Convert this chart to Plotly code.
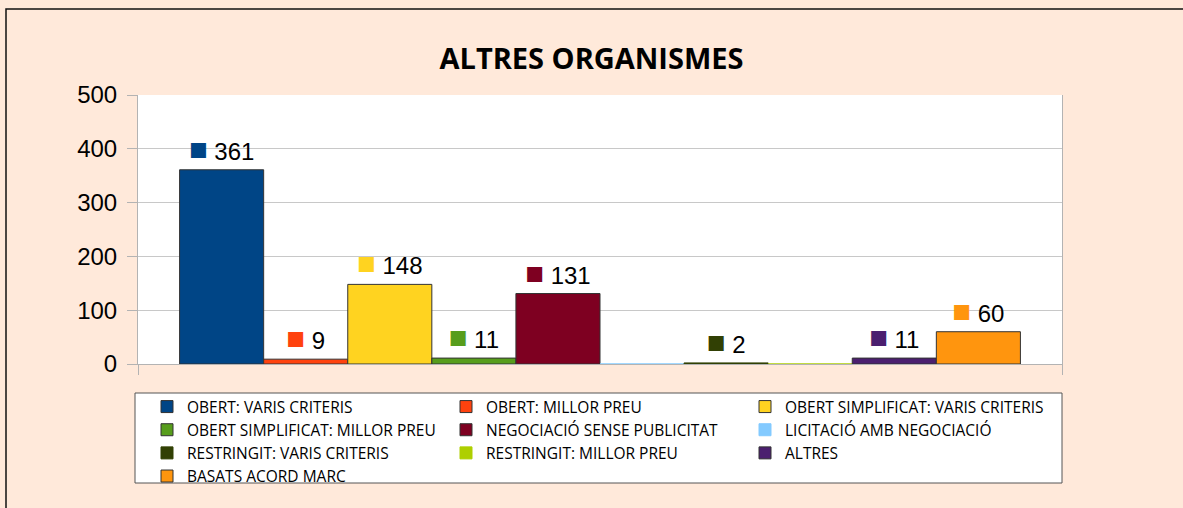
import plotly.graph_objects as go

title = "ALTRES ORGANISMES"
category = ["ALTRES ORGANISMES"]
series_names = [
    "OBERT: VARIS CRITERIS",
    "OBERT: MILLOR PREU",
    "OBERT SIMPLIFICAT: VARIS CRITERIS",
    "OBERT SIMPLIFICAT: MILLOR PREU",
    "NEGOCIACIÓ SENSE PUBLICITAT",
    "LICITACIÓ AMB NEGOCIACIÓ",
    "RESTRINGIT: VARIS CRITERIS",
    "RESTRINGIT: MILLOR PREU",
    "ALTRES",
    "BASATS ACORD MARC",
]
series_values = [361, 9, 148, 11, 131, 0, 2, 0, 11, 60]
series_colors = ["#004586", "#ff420e", "#ffd320", "#579d1c", "#7e0021",
                 "#83caff", "#314004", "#aecf00", "#4b1f6f", "#ff950e"]
y_ticks = [0, 100, 200, 300, 400, 500]

BG = "#ffe9da"
GRID = "#c8c8c8"
AXIS = "#b3b3b3"

fig = go.Figure()
for name, val, col in zip(series_names, series_values, series_colors):
    label = (f'<span style="color:{col};font-size:31px">■</span> {val}' if val else "")
    line_col = col if val < 5 else "#333333"
    fig.add_trace(go.Bar(
        x=category, y=[val], name=name,
        marker=dict(color=col, line=dict(color=line_col, width=1)),
        text=[label], texttemplate="%{text}", textposition="outside",
        textfont=dict(family="Liberation Sans", size=24, color="#000000"),
        constraintext="none", cliponaxis=False,
        hoverinfo="name+y",
    ))

# plot area: x 138..1062, y 95..364
L, R, T, B = 138, 1183 - 1062, 95, 508 - 364
PW, PH = 1183 - L - R, 508 - T - B


def px_x(p):
    return (p - L) / PW


def px_y(p):
    return (T + PH - p) / PH


fig.update_layout(
    width=1183, height=508,
    margin=dict(l=L, r=R, t=T, b=B, pad=0),
    paper_bgcolor=BG, plot_bgcolor="#ffffff",
    barmode="group", bargap=0.09, bargroupgap=0,
    title=dict(text=f"<b>{title}</b>", x=0.5, xanchor="center", y=1 - 59 / 508, yanchor="middle",
               font=dict(family="Open Sans", size=29, color="#000000")),
    showlegend=True,
    legend=dict(orientation="h", x=px_x(147), xanchor="left", y=px_y(390), yanchor="top",
                bgcolor="rgba(0,0,0,0)", borderwidth=0,
                font=dict(family="Open Sans", size=15.5, color="#000000"),
                entrywidth=254, itemwidth=30, traceorder="normal", tracegroupgap=0),
    xaxis=dict(showticklabels=False, showgrid=False, showline=True, linecolor=AXIS, linewidth=1,
               ticks="outside", tickson="boundaries", ticklen=10, tickcolor=AXIS, mirror=False),
    yaxis=dict(range=[0, 500], tickvals=y_ticks, showgrid=True, gridcolor=GRID, gridwidth=1,
               showline=True, linecolor=AXIS, linewidth=1, mirror=True,
               ticks="outside", ticklen=10, tickcolor=AXIS, zeroline=False,
               ticklabelstandoff=5,
               tickfont=dict(family="Liberation Sans", size=24, color="#000000")),
    shapes=[
        dict(type="rect", xref="paper", yref="paper",
             x0=px_x(6), x1=px_x(1300), y0=px_y(600), y1=px_y(9),
             line=dict(color="#111111", width=1.5), fillcolor="rgba(0,0,0,0)", layer="below"),
        dict(type="rect", xref="paper", yref="paper",
             x0=px_x(135), x1=px_x(1062), y0=px_y(483), y1=px_y(393),
             line=dict(color="#555555", width=1), fillcolor="#ffffff", layer="below"),
    ],
)

fig.write_html("out.html", config={"displayModeBar": False},
               post_script="document.body.style.margin='0';document.body.style.overflow='hidden';")
